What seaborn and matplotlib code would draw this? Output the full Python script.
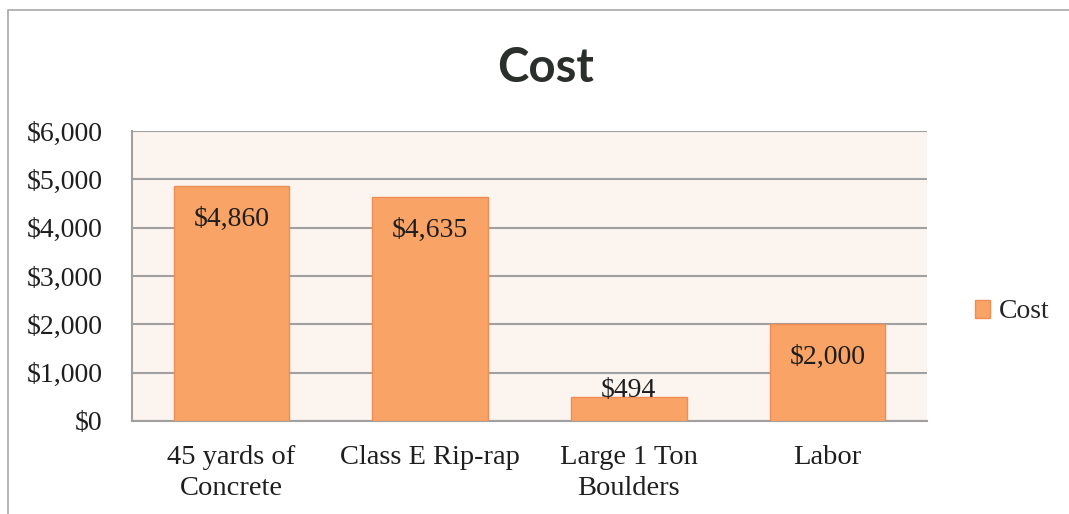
import matplotlib
matplotlib.use("Agg")
import matplotlib.pyplot as plt
import matplotlib.ticker as mticker
from matplotlib.patches import Rectangle, Patch
import seaborn as sns
import pandas as pd

# chart data
categories = ["45 yards of\nConcrete", "Class E Rip-rap", "Large 1 Ton\nBoulders", "Labor"]
costs = [4860, 4635, 494, 2000]
value_labels = ["$4,860", "$4,635", "$494", "$2,000"]
yticks = [0, 1000, 2000, 3000, 4000, 5000, 6000]

df = pd.DataFrame({"item": categories, "cost": costs})

sns.set_style("white")
serif = ["Liberation Serif", "DejaVu Serif"]
plt.rcParams["font.family"] = serif

bar_color = "#F9A466"
edge_color = "#F08C55"
grid_color = "#A0A0A0"
text_color = "#1E1E1E"

fig = plt.figure(figsize=(10.69, 5.14), dpi=100)
fig.patch.set_facecolor("white")

# outer chart border (cropped at right / bottom like the scan)
fig.patches.append(Rectangle((8 / 1069, -0.1), 1.2, 0.1 + 1 - 10 / 514,
                             transform=fig.transFigure, fill=False,
                             edgecolor="#A8A8A8", linewidth=1.2))

ax = fig.add_axes([132 / 1069, 1 - 421 / 514, 795 / 1069, 290 / 514])
ax.set_facecolor("#FCF4EE")

sns.barplot(data=df, x="item", y="cost", color=bar_color, width=0.58,
            edgecolor=edge_color, linewidth=1.0, saturation=1, ax=ax, zorder=3)

ax.set_ylim(0, 6000)
ax.set_yticks(yticks)
ax.yaxis.set_major_formatter(mticker.FuncFormatter(lambda v, p: f"${v:,.0f}"))
ax.grid(axis="y", color=grid_color, linewidth=1.5, zorder=0)
ax.set_axisbelow(True)
for s in ["top", "right"]:
    ax.spines[s].set_visible(False)
for s in ["left", "bottom"]:
    ax.spines[s].set_color(grid_color)
    ax.spines[s].set_linewidth(1.5)

ax.tick_params(axis="y", length=0, pad=21, labelsize=20, colors=text_color)
ax.tick_params(axis="x", length=0, pad=17, labelsize=20.5, colors=text_color)
for t in ax.get_xticklabels():
    t.set_linespacing(1.35)
ax.set_xlabel("")
ax.set_ylabel("")

# data labels (inside end; short bar pushes label up)
for i, (v, lab) in enumerate(zip(costs, value_labels)):
    dy = -24 if v > 1000 else 5
    ax.annotate(lab, xy=(i, v), xytext=(0, dy), textcoords="offset points",
                ha="center", va="center", fontsize=20, color=text_color, zorder=5)

fig.text(546 / 1069, 1 - 68 / 514, "Cost", ha="center", va="center",
         fontsize=34, fontweight="bold", color="#2A2F2C",
         family=["Lato", "DejaVu Sans"])

fig.legend(handles=[Patch(facecolor=bar_color, edgecolor=edge_color, label="Cost")],
           loc="center left", bbox_to_anchor=(964 / 1069, 1 - 312 / 514),
           frameon=False, fontsize=20, handlelength=0.55, handleheight=0.6,
           handletextpad=0.3, borderaxespad=0)

fig.savefig("out.png", dpi=100)
